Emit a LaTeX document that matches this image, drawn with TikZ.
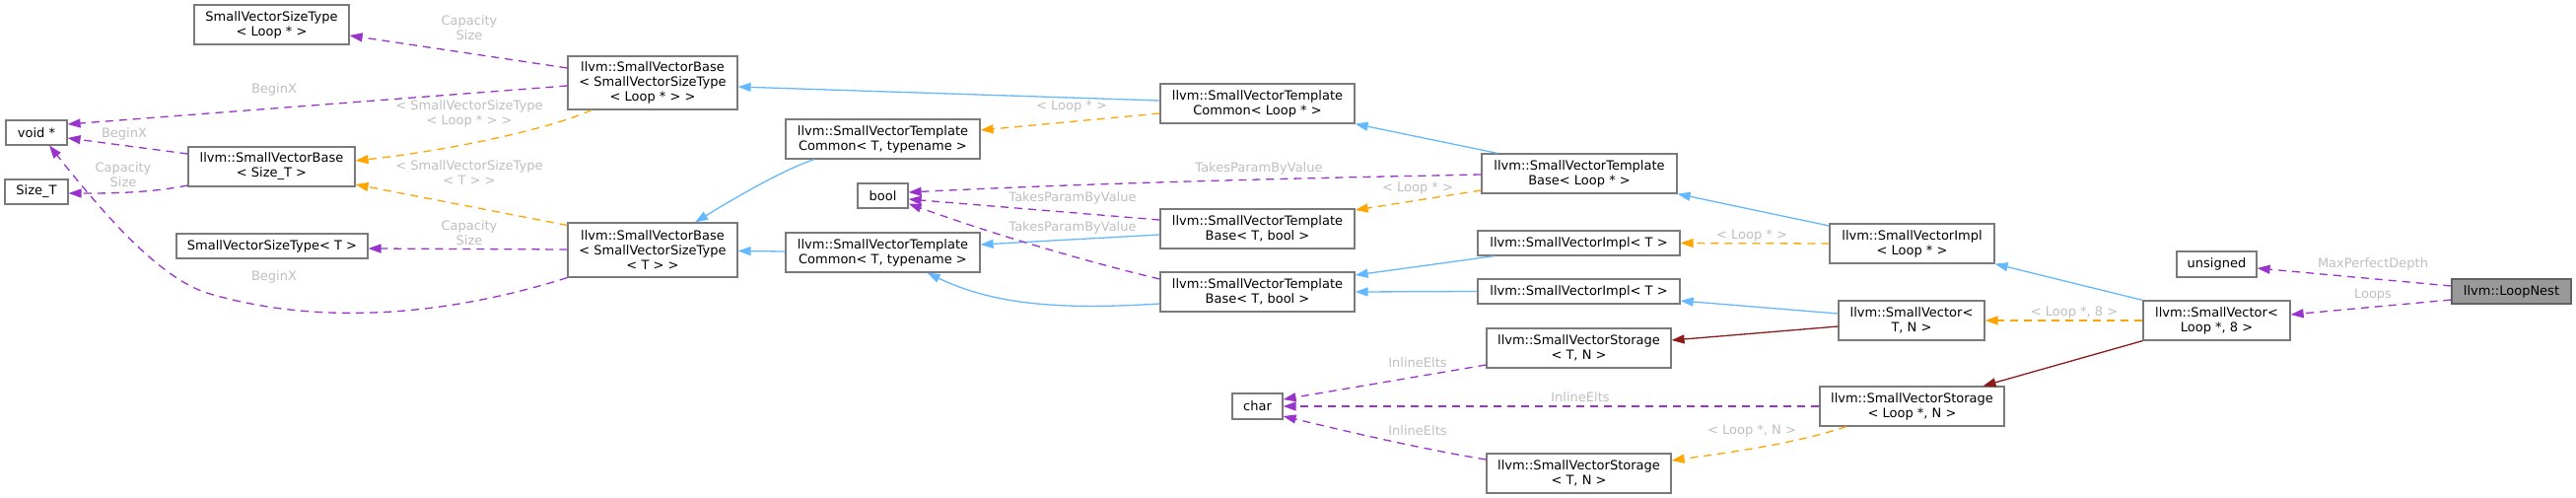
\documentclass[tikz,border=0pt]{standalone}
\usepackage{fontspec}
\setmainfont{DejaVu Sans}
\usetikzlibrary{arrows.meta,calc}
\definecolor{blue1}{HTML}{63B8FF}
\definecolor{purp}{HTML}{9A32CD}
\definecolor{orng}{HTML}{FFA500}
\definecolor{dred}{HTML}{8B1A1A}
\definecolor{lblc}{HTML}{BEBEBE}
\definecolor{boxc}{HTML}{7A7A7A}
\definecolor{rootc}{HTML}{999999}
\tikzset{
  box/.style={draw=boxc, line width=1.2pt, fill=white, inner sep=0pt, align=center, font=\fontsize{13}{15}\selectfont},
  lbl/.style={text=lblc, align=center, inner sep=0pt, font=\fontsize{13}{15}\selectfont},
  tip/.style={-{Triangle[length=13pt,width=9pt]}},
  inh/.style={tip, draw=blue1, line width=1.3pt},
  comp/.style={tip, draw=dred, line width=1.3pt},
  mem/.style={tip, draw=purp, line width=1.3pt, dash pattern=on 8pt off 6pt},
  tmpl/.style={tip, draw=orng, line width=1.3pt, dash pattern=on 8pt off 6pt},
}
\begin{document}
\begin{tikzpicture}[x=1pt,y=-1pt]
\useasboundingbox (0,0) rectangle (2613,505);
% nodes
\node[box, minimum width=157pt, minimum height=40pt] (svstL) at (275.5,25) {SmallVectorSizeType\\< Loop * >};
\node[box, minimum width=62pt, minimum height=25pt] (voidp) at (37,134.5) {void *};
\node[box, minimum width=64pt, minimum height=25pt] (sizet) at (37,194.5) {Size\_T};
\node[box, minimum width=169pt, minimum height=40pt] (svbS) at (275.5,169) {llvm::SmallVectorBase\\< Size\_T >};
\node[box, minimum width=194pt, minimum height=25pt] (svstT) at (276,249.5) {SmallVectorSizeType< T >};
\node[box, minimum width=172pt, minimum height=54pt] (svbL) at (662,84) {llvm::SmallVectorBase\\< SmallVectorSizeType\\< Loop * > >};
\node[box, minimum width=172pt, minimum height=55pt] (svbT) at (662,253.5) {llvm::SmallVectorBase\\< SmallVectorSizeType\\< T > >};
\node[box, minimum width=197pt, minimum height=40pt] (svtcT1) at (895.5,141) {llvm::SmallVectorTemplate\\Common< T, typename >};
\node[box, minimum width=51pt, minimum height=25pt] (bool) at (895.5,198.5) {bool};
\node[box, minimum width=197pt, minimum height=40pt] (svtcT2) at (895.5,256) {llvm::SmallVectorTemplate\\Common< T, typename >};
\node[box, minimum width=197pt, minimum height=40pt] (svtcL) at (1275.5,105) {llvm::SmallVectorTemplate\\Common< Loop * >};
\node[box, minimum width=197pt, minimum height=40pt] (svtbT1) at (1275.5,232) {llvm::SmallVectorTemplate\\Base< T, bool >};
\node[box, minimum width=197pt, minimum height=40pt] (svtbT2) at (1275.5,296) {llvm::SmallVectorTemplate\\Base< T, bool >};
\node[box, minimum width=51pt, minimum height=26pt] (char) at (1275.5,412) {char};
\node[box, minimum width=198pt, minimum height=40pt] (svtbL) at (1602,176) {llvm::SmallVectorTemplate\\Base< Loop * >};
\node[box, minimum width=205pt, minimum height=25pt] (sviT1) at (1601.5,246.5) {llvm::SmallVectorImpl< T >};
\node[box, minimum width=205pt, minimum height=25pt] (sviT2) at (1601.5,295.5) {llvm::SmallVectorImpl< T >};
\node[box, minimum width=187pt, minimum height=40pt] (svsT1) at (1601.5,353) {llvm::SmallVectorStorage\\< T, N >};
\node[box, minimum width=187pt, minimum height=40pt] (svsT2) at (1601.5,480) {llvm::SmallVectorStorage\\< T, N >};
\node[box, minimum width=167pt, minimum height=40pt] (sviL) at (1939.5,247) {llvm::SmallVectorImpl\\< Loop * >};
\node[box, minimum width=148pt, minimum height=40pt] (svTN) at (1939,325) {llvm::SmallVector<\\T, N >};
\node[box, minimum width=187pt, minimum height=40pt] (svsL) at (1939.5,412) {llvm::SmallVectorStorage\\< Loop *, N >};
\node[box, minimum width=81pt, minimum height=26pt] (unsigned) at (2248.5,268) {unsigned};
\node[box, minimum width=149pt, minimum height=40pt] (svL8) at (2248.5,325) {llvm::SmallVector<\\Loop *, 8 >};
\node[box, fill=rootc, draw=boxc!80!black, minimum width=121pt, minimum height=25pt] (loopnest) at (2547.5,295.5) {llvm::LoopNest};
% edges
\draw[mem] ($(svbL.west)+(0,-15)$) -- ($(svstL.east)+(0,11)$);
\draw[mem] ($(svbL.west)+(0,3)$) -- ($(voidp.east)+(0,-8.5)$);
\draw[tmpl] ($(svbL.south)+(-62,0)$) .. controls (560,130) and (460,152) .. ($(svbS.east)+(0,-6)$);
\draw[mem] ($(svbS.west)+(0,-13)$) -- ($(voidp.east)+(0,5.5)$);
\draw[mem] ($(svbS.west)+(0,19)$) .. controls (150,196) and (110,196) .. ($(sizet.east)+(0,1.5)$);
\draw[tmpl] ($(svbT.west)+(0,-25)$) -- ($(svbS.east)+(0,18)$);
\draw[mem] ($(svbT.west)+(0,-0.5)$) -- ($(svstT.east)+(0,2.5)$);
\draw[mem] (svbT.south west) .. controls (460,318) and (330,332) .. (213,298) .. controls (160,283) and (100,210) .. ($(voidp.south)+(13,0)$);
\draw[inh] ($(svtcL.west)+(0,-3)$) -- ($(svbL.east)+(0,4)$);
\draw[tmpl] ($(svtcL.west)+(0,10)$) -- ($(svtcT1.east)+(0,-9)$);
\draw[inh] ($(svtcT1.south)+(-69.5,0)$) .. controls (795,172) and (750,198) .. ($(svbT.north)+(43,0)$);
\draw[inh] ($(svtcT2.west)+(0,-1)$) -- ($(svbT.east)+(0,1)$);
\draw[inh] ($(svtbL.north)+(-83,0)$) -- (svtcL.south east);
\draw[mem] ($(svtbL.west)+(0,1)$) .. controls (1300,181) and (1100,186) .. ($(bool.east)+(0,-3.5)$);
\draw[tmpl] ($(svtbL.west)+(0,17)$) -- ($(svtbT1.east)+(0,-19)$);
\draw[mem] ($(svtbT1.west)+(0,-9)$) -- ($(bool.east)+(0,3.5)$);
\draw[inh] ($(svtbT1.west)+(0,6)$) -- ($(svtcT2.east)+(0,-8)$);
\draw[mem] ($(svtbT2.west)+(0,-13)$) .. controls (1100,265) and (1000,235) .. ($(bool.east)+(0,8)$);
\draw[inh] ($(svtbT2.west)+(0,12)$) .. controls (1080,314) and (1010,310) .. ($(svtcT2.south)+(45,0)$);
\draw[inh] ($(sviT1.south)+(-85.5,0)$) -- ($(svtbT2.east)+(0,-17)$);
\draw[inh] (sviT2.west) -- (svtbT2.east);
\draw[inh] ($(sviL.west)+(0,-18)$) -- (svtbL.south east);
\draw[tmpl] (sviL.west) -- (sviT1.east);
\draw[inh] ($(svTN.west)+(0,-7)$) -- ($(sviT2.east)+(0,9.5)$);
\draw[comp] ($(svTN.west)+(0,6)$) -- ($(svsT1.east)+(0,-8)$);
\draw[mem] ($(svsT1.west)+(0,17)$) -- ($(char.east)+(0,-7)$);
\draw[mem] (svsL.west) -- (char.east);
\draw[mem] ($(svsT2.west)+(0,-14)$) .. controls (1440,455) and (1360,436) .. ($(char.east)+(0,10)$);
\draw[tmpl] ($(svsL.south)+(-66.5,0)$) .. controls (1820,450) and (1760,458) .. ($(svsT2.east)+(0,-13)$);
\draw[inh] (svL8.north west) -- (sviL.south east);
\draw[tmpl] (svL8.west) -- (svTN.east);
\draw[comp] (svL8.south west) -- ($(svsL.north)+(72,0)$);
\draw[mem] ($(loopnest.west)+(0,-5.5)$) -- ($(unsigned.east)+(0,4)$);
\draw[mem] ($(loopnest.west)+(0,8.5)$) -- ($(svL8.east)+(0,-6)$);
% labels
\node[lbl] (l1) at (476,28) {Capacity\\Size};
\node[lbl] (l2) at (278,91) {BeginX};
\node[lbl] (l3) at (476,115.5) {< SmallVectorSizeType\\< Loop * > >};
\node[lbl] (l4) at (126,136) {BeginX};
\node[lbl] (l5) at (125,177.5) {Capacity\\Size};
\node[lbl] (l6) at (476,175.5) {< SmallVectorSizeType\\< T > >};
\node[lbl] (l7) at (476,236) {Capacity\\Size};
\node[lbl] (l8) at (278,281) {BeginX};
\node[lbl] (l9) at (1087,108) {< Loop * >};
\node[lbl] (l10) at (1277,171) {TakesParamByValue};
\node[lbl] (l11) at (1438,191) {< Loop * >};
\node[lbl] (l12) at (1088,201) {TakesParamByValue};
\node[lbl] (l13) at (1088,231) {TakesParamByValue};
\node[lbl] (l14) at (1777,239) {< Loop * >};
\node[lbl] (l15) at (2104,317) {< Loop *, 8 >};
\node[lbl] (l16) at (1438,368) {InlineElts};
\node[lbl] (l17) at (1603,403) {InlineElts};
\node[lbl] (l18) at (1438,437) {InlineElts};
\node[lbl] (l19) at (1777,437) {< Loop *, N >};
\node[lbl] (l20) at (2407,268) {MaxPerfectDepth};
\node[lbl] (l21) at (2407,299) {Loops};
\end{tikzpicture}
\end{document}
